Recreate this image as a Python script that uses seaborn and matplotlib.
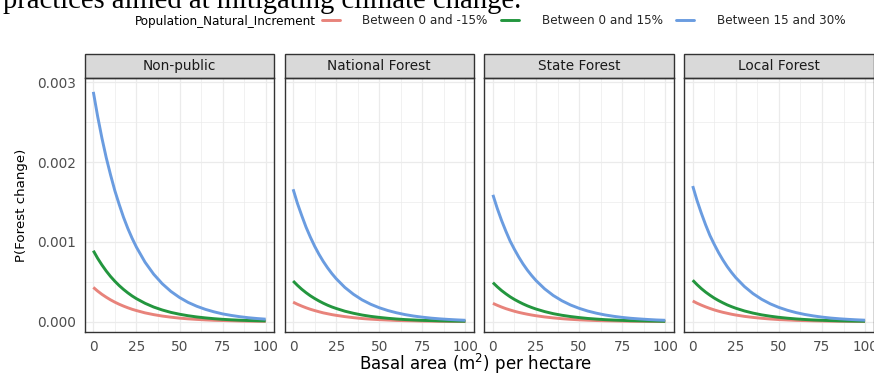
import matplotlib
matplotlib.use("Agg")
import matplotlib.pyplot as plt
import pandas as pd
import seaborn as sns
from matplotlib.patches import Rectangle
from matplotlib.lines import Line2D

# ---- data -------------------------------------------------------------
basal_area = [0, 2.5, 5, 7.5, 10, 12.5, 15, 17.5, 20, 22.5, 25, 30, 35, 40, 45, 50,
              55, 60, 65, 70, 75, 80, 85, 90, 95, 100]

ownerships = ["Non-public", "National Forest", "State Forest", "Local Forest"]
increments = ["Between 0 and -15%", "Between 0 and 15%", "Between 15 and 30%"]

nonpublic_low = [0.000430, 0.000384, 0.000343, 0.000307, 0.000274, 0.000245, 0.000219,
                 0.000196, 0.000175, 0.000156, 0.000140, 0.000111,
                 0.000089, 0.000071, 0.000057, 0.000045, 0.000036, 0.000029, 0.000023,
                 0.000018, 0.000015, 0.000012, 0.000009, 0.000007, 0.000006, 0.000005]
nonpublic_mid = [0.000890, 0.000795, 0.000711, 0.000635, 0.000567, 0.000507, 0.000453,
                 0.000405, 0.000362, 0.000323, 0.000289, 0.000231,
                 0.000184, 0.000147, 0.000117, 0.000094, 0.000075, 0.000060, 0.000048,
                 0.000038, 0.000030, 0.000024, 0.000019, 0.000015, 0.000012, 0.000010]
nonpublic_high = [0.002880, 0.002574, 0.002300, 0.002055, 0.001840, 0.001641, 0.001470,
                  0.001310, 0.001170, 0.001046, 0.000935, 0.000746,
                  0.000596, 0.000476, 0.000380, 0.000304, 0.000242, 0.000194, 0.000155,
                  0.000124, 0.000098, 0.000079, 0.000063, 0.000050, 0.000040, 0.000032]

national_low = [0.000245, 0.000219, 0.000196, 0.000175, 0.000156, 0.000140, 0.000125,
                0.000111, 0.000100, 0.000089, 0.000080, 0.000064,
                0.000051, 0.000040, 0.000032, 0.000026, 0.000021, 0.000016, 0.000013,
                0.000011, 0.000008, 0.000007, 0.000005, 0.000004, 0.000003, 0.000003]
national_mid = [0.000510, 0.000456, 0.000407, 0.000364, 0.000325, 0.000291, 0.000260,
                0.000232, 0.000207, 0.000185, 0.000166, 0.000132,
                0.000106, 0.000084, 0.000067, 0.000054, 0.000043, 0.000034, 0.000027,
                0.000022, 0.000017, 0.000014, 0.000011, 0.000009, 0.000007, 0.000006]
national_high = [0.001660, 0.001483, 0.001330, 0.001185, 0.001060, 0.000946, 0.000845,
                 0.000755, 0.000675, 0.000603, 0.000539, 0.000430,
                 0.000344, 0.000274, 0.000219, 0.000175, 0.000140, 0.000112, 0.000089,
                 0.000071, 0.000057, 0.000045, 0.000036, 0.000029, 0.000023, 0.000018]

state_low = [0.000230, 0.000206, 0.000184, 0.000164, 0.000147, 0.000131, 0.000117,
             0.000105, 0.000094, 0.000084, 0.000075, 0.000060,
             0.000048, 0.000038, 0.000030, 0.000024, 0.000019, 0.000015, 0.000012,
             0.000010, 0.000008, 0.000006, 0.000005, 0.000004, 0.000003, 0.000003]
state_mid = [0.000490, 0.000438, 0.000391, 0.000350, 0.000312, 0.000279, 0.000250,
             0.000223, 0.000199, 0.000178, 0.000159, 0.000127,
             0.000101, 0.000081, 0.000065, 0.000052, 0.000041, 0.000033, 0.000026,
             0.000021, 0.000017, 0.000013, 0.000011, 0.000009, 0.000007, 0.000005]
state_high = [0.001590, 0.001421, 0.001270, 0.001135, 0.001010, 0.000906, 0.000810,
              0.000723, 0.000646, 0.000578, 0.000516, 0.000412,
              0.000329, 0.000263, 0.000210, 0.000168, 0.000134, 0.000107, 0.000085,
              0.000068, 0.000054, 0.000043, 0.000035, 0.000028, 0.000022, 0.000018]

local_low = [0.000260, 0.000232, 0.000208, 0.000186, 0.000166, 0.000148, 0.000132,
             0.000118, 0.000106, 0.000094, 0.000084, 0.000067,
             0.000054, 0.000043, 0.000034, 0.000027, 0.000022, 0.000017, 0.000014,
             0.000011, 0.000009, 0.000007, 0.000006, 0.000005, 0.000004, 0.000003]
local_mid = [0.000520, 0.000465, 0.000415, 0.000371, 0.000332, 0.000296, 0.000265,
             0.000237, 0.000211, 0.000189, 0.000169, 0.000135,
             0.000108, 0.000086, 0.000069, 0.000055, 0.000044, 0.000035, 0.000028,
             0.000022, 0.000018, 0.000014, 0.000011, 0.000009, 0.000007, 0.000006]
local_high = [0.001700, 0.001519, 0.001360, 0.001213, 0.001080, 0.000969, 0.000866,
              0.000774, 0.000691, 0.000618, 0.000552, 0.000441,
              0.000352, 0.000281, 0.000224, 0.000179, 0.000143, 0.000114, 0.000091,
              0.000073, 0.000058, 0.000046, 0.000037, 0.000030, 0.000024, 0.000019]

x_ticks = [0, 25, 50, 75, 100]
x_tick_labels = ["0", "25", "50", "75", "100"]
y_ticks = [0.000, 0.001, 0.002, 0.003]
y_tick_labels = ["0.000", "0.001", "0.002", "0.003"]

curves = {
    "Non-public": [nonpublic_low, nonpublic_mid, nonpublic_high],
    "National Forest": [national_low, national_mid, national_high],
    "State Forest": [state_low, state_mid, state_high],
    "Local Forest": [local_low, local_mid, local_high],
}

rows = []
for owner in ownerships:
    for inc, vals in zip(increments, curves[owner]):
        for x, y in zip(basal_area, vals):
            rows.append({"Ownership": owner, "Population_Natural_Increment": inc,
                         "basal_area": x, "prob": y})
df = pd.DataFrame(rows)

palette = dict(zip(increments, ["#E8837B", "#23963E", "#6A9CE0"]))

# ---- styling ----------------------------------------------------------
sns.set_style("white")
plt.rcParams["font.family"] = ["DejaVu Sans"]
plt.rcParams["mathtext.default"] = "regular"

W, H = 874, 374
fig = plt.figure(figsize=(W / 100, H / 100), dpi=100)


def fx(px):
    return px / W


def fy(py):
    return 1 - py / H


panel_lefts = [84.7, 284.5, 484.3, 684.1]
panel_w = 189.6
panel_top, panel_bottom = 78.3, 331.7
strip_h = 24.0
border = "#333333"

for i, owner in enumerate(ownerships):
    ax = fig.add_axes([fx(panel_lefts[i]), fy(panel_bottom),
                       panel_w / W, (panel_bottom - panel_top) / H])
    sub = df[df["Ownership"] == owner]
    sns.lineplot(data=sub, x="basal_area", y="prob",
                 hue="Population_Natural_Increment", hue_order=increments,
                 palette=palette, linewidth=2.1, legend=False, ax=ax)
    for ln in ax.get_lines():
        ln.set_solid_joinstyle("round")
        ln.set_solid_capstyle("butt")

    ax.set_xlim(-5, 105)
    ax.set_ylim(-0.000125, 0.00305)
    ax.set_xticks(x_ticks)
    ax.set_xticklabels(x_tick_labels)
    ax.set_xticks([12.5, 37.5, 62.5, 87.5], minor=True)
    ax.set_yticks(y_ticks)
    ax.set_yticks([0.0005, 0.0015, 0.0025], minor=True)
    ax.grid(which="major", color="#EBEBEB", linewidth=0.9)
    ax.grid(which="minor", color="#EBEBEB", linewidth=0.5)
    ax.set_axisbelow(True)
    ax.set_xlabel("")
    ax.set_ylabel("")
    for sp in ax.spines.values():
        sp.set_color(border)
        sp.set_linewidth(1.0)

    ax.tick_params(which="minor", length=0)
    ax.tick_params(axis="x", which="major", length=3.6, width=0.8, color=border,
                   labelsize=9.8, labelcolor="#4D4D4D", pad=2.2)
    if i == 0:
        ax.set_yticklabels(y_tick_labels)
        ax.tick_params(axis="y", which="major", length=3.6, width=0.8, color=border,
                       labelsize=9.8, labelcolor="#4D4D4D", pad=2.6)
    else:
        ax.tick_params(axis="y", which="both", left=False, labelleft=False)

    # facet strip
    sh = strip_h / (panel_bottom - panel_top)
    ax.add_patch(Rectangle((0, 1), 1, sh, transform=ax.transAxes, clip_on=False,
                           facecolor="#D9D9D9", edgecolor=border, linewidth=1.0))
    ax.text(0.5, 1 + sh / 2, owner, transform=ax.transAxes, ha="center",
            va="center", fontsize=9.8, color="#1A1A1A")

# axis titles
fig.text(fx(476), fy(370.5), "Basal area (m$^2$) per hectare", ha="center",
         va="baseline", fontsize=12.0, color="black")
fig.text(fx(21.7), fy(205), "P(Forest change)", rotation=90, ha="center",
         va="center", fontsize=9.6, color="black")

# legend across the top
fig.text(fx(134.5), fy(21), "Population_Natural_Increment", ha="left",
         va="center", fontsize=8.65, color="black")
handles = [Line2D([], [], color=palette[k], linewidth=2.1) for k in increments]
fig.legend(handles, increments, loc="center left",
           bbox_to_anchor=(fx(321.5), fy(21)), ncol=3, frameon=False,
           fontsize=8.65, handlelength=1.5, handletextpad=1.9,
           columnspacing=1.1, borderpad=0, borderaxespad=0)

# running text of the page above the figure
fig.text(fx(3), fy(8), "practices aimed at mitigating climate change.",
         family=["Liberation Serif"], fontsize=20.6, va="baseline", ha="left",
         color="black")

fig.savefig("out.png", dpi=100)
